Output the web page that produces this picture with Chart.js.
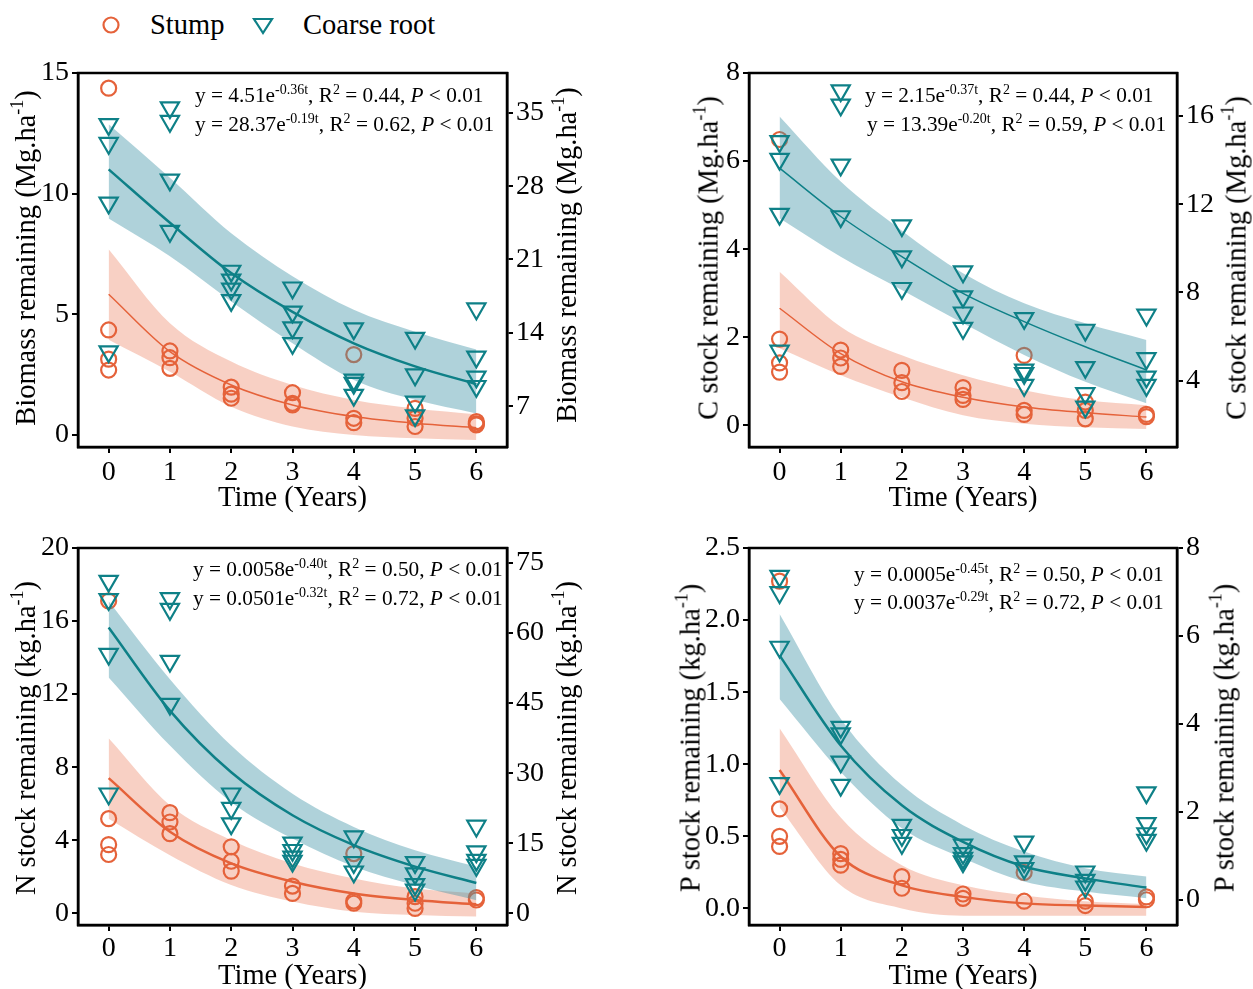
<!DOCTYPE html>
<html>
<head>
<meta charset="utf-8">
<script src="https://cdn.jsdelivr.net/npm/chart.js@4.4.1/dist/chart.umd.min.js"></script>
<style>
body { margin: 0; background: #fff; width: 1253px; height: 989px; position: relative; overflow: hidden;
       font-family: 'Liberation Serif', 'Times New Roman', serif; color: #000; }
canvas { position: absolute; }
.eq { position: absolute; font-size: 21.3px; line-height: 21px; white-space: nowrap; }
.eq sup { font-size: 14px; vertical-align: baseline; position: relative; top: -8px; }
.yt { position: absolute; font-size: 28.5px; line-height: 30px; white-space: nowrap;
      transform: translate(-50%, -50%) rotate(-90deg); }
.yt sup { font-size: 18px; vertical-align: baseline; position: relative; top: -12px; }
.lg { position: absolute; font-size: 28.5px; line-height: 30px; white-space: nowrap; }
svg { position: absolute; overflow: visible; }
</style>
</head>
<body>

<svg style="left:0;top:0" width="1" height="1">
  <circle cx="111" cy="25" r="7.5" fill="none" stroke="#E5623A" stroke-width="2.2"/>
  <polygon points="254,19 272,19 263,33" fill="none" stroke="#0E8087" stroke-width="2.2"/>
</svg>
<div class="lg" style="left:150px;top:10px">Stump</div>
<div class="lg" style="left:303px;top:10px">Coarse root</div>

<canvas id="c1" width="600" height="470" style="left:0;top:50px"></canvas>
<canvas id="c2" width="593" height="470" style="left:660px;top:50px"></canvas>
<canvas id="c3" width="600" height="469" style="left:0;top:525px"></canvas>
<canvas id="c4" width="593" height="469" style="left:660px;top:525px"></canvas>

<div class="eq" style="left:195px;top:85px">y = 4.51e<sup>-0.36t</sup>, R<sup>2</sup> = 0.44, <i>P</i> &lt; 0.01</div>
<div class="eq" style="left:195px;top:114px">y = 28.37e<sup>-0.19t</sup>, R<sup>2</sup> = 0.62, <i>P</i> &lt; 0.01</div>
<div class="eq" style="left:865px;top:85px">y = 2.15e<sup>-0.37t</sup>, R<sup>2</sup> = 0.44, <i>P</i> &lt; 0.01</div>
<div class="eq" style="left:867px;top:114px">y = 13.39e<sup>-0.20t</sup>, R<sup>2</sup> = 0.59, <i>P</i> &lt; 0.01</div>
<div class="eq" style="left:193px;top:559px">y = 0.0058e<sup>-0.40t</sup>, R<sup>2</sup> = 0.50, <i>P</i> &lt; 0.01</div>
<div class="eq" style="left:193px;top:588px">y = 0.0501e<sup>-0.32t</sup>, R<sup>2</sup> = 0.72, <i>P</i> &lt; 0.01</div>
<div class="eq" style="left:854px;top:564px">y = 0.0005e<sup>-0.45t</sup>, R<sup>2</sup> = 0.50, <i>P</i> &lt; 0.01</div>
<div class="eq" style="left:854px;top:592px">y = 0.0037e<sup>-0.29t</sup>, R<sup>2</sup> = 0.72, <i>P</i> &lt; 0.01</div>

<div class="yt" style="left:27px;top:258px">Biomass remaining (Mg.ha<sup>-1</sup>)</div>
<div class="yt" style="left:568px;top:255px">Biomass remaining (Mg.ha<sup>-1</sup>)</div>
<div class="yt" style="left:710px;top:258px">C stock remaining (Mg.ha<sup>-1</sup>)</div>
<div class="yt" style="left:1238px;top:258px">C stock remaining (Mg.ha<sup>-1</sup>)</div>
<div class="yt" style="left:27px;top:738px">N stock remaining (kg.ha<sup>-1</sup>)</div>
<div class="yt" style="left:568px;top:738px">N stock remaining (kg.ha<sup>-1</sup>)</div>
<div class="yt" style="left:692px;top:738px">P stock remaining (kg.ha<sup>-1</sup>)</div>
<div class="yt" style="left:1226px;top:738px">P stock remaining (kg.ha<sup>-1</sup>)</div>

<script>
// time axis
const years = [0, 1, 2, 3, 4, 5, 6];

// Biomass (stump on left axis, coarse root on right axis), grouped by year
const bioStump = [[14.37, 4.35, 3.14, 2.69], [3.48, 3.2, 2.76], [1.98, 1.69, 1.52], [1.75, 1.31, 1.24], [3.33, 0.69, 0.51], [1.1, 0.69, 0.35], [0.55, 0.46, 0.42]];
const bioRoot = [[33.9, 32.1, 26.4, 12.2], [35.5, 34.2, 28.6, 23.7], [19.9, 19.06, 18.2, 17.1], [18.3, 16.0, 14.5, 13.0], [14.4, 9.5, 9.2, 8.05], [13.5, 10.0, 7.4, 6.1], [16.3, 11.7, 9.8, 8.9]];
const bioStumpFit = [5.83, 3.45, 2.07, 1.24, 0.76, 0.48, 0.30];
const bioStumpHi = [7.7, 4.63, 3.04, 2.07, 1.45, 1.1, 0.86];
const bioStumpLo = [3.94, 2.62, 1.17, 0.35, 0.0, -0.14, -0.21];
const bioRootFit = [29.6, 24.5, 19.7, 16.0, 13.0, 10.8, 9.1];
const bioRootHi = [33.9, 28.8, 23.5, 19.4, 16.2, 14.1, 12.4];
const bioRootLo = [24.9, 21.3, 17.0, 13.0, 9.5, 7.6, 6.3];
const bioLeftTicks = [0, 5, 10, 15];
const bioRightTicks = [7, 14, 21, 28, 35];

// C stock
const cStump = [[6.49, 1.96, 1.42, 1.21], [1.71, 1.53, 1.34], [1.25, 0.97, 0.77], [0.86, 0.68, 0.59], [1.59, 0.34, 0.25], [0.53, 0.34, 0.15], [0.25, 0.2]];
const cRoot = [[14.84, 14.04, 11.55, 5.35], [17.14, 16.5, 13.78, 11.44], [11.03, 9.62, 8.19], [8.94, 7.81, 7.08, 6.38], [6.83, 4.49, 4.34, 3.8], [6.3, 4.61, 3.43, 2.82], [6.98, 5.01, 4.18, 3.8]];
const cStumpFit = [2.66, 1.63, 0.99, 0.64, 0.42, 0.29, 0.19];
const cStumpHi = [3.49, 2.24, 1.59, 1.14, 0.80, 0.57, 0.46];
const cStumpLo = [1.75, 1.14, 0.64, 0.23, 0.04, -0.04, -0.08];
const cRootFit = [13.63, 11.44, 9.62, 7.96, 6.68, 5.54, 4.49];
const cRootHi = [15.97, 13.02, 10.8, 8.87, 7.51, 6.6, 5.85];
const cRootLo = [11.36, 9.62, 8.11, 6.6, 5.17, 3.95, 2.98];
const cLeftTicks = [0, 2, 4, 6, 8];
const cRightTicks = [4, 8, 12, 16];

// N stock
const nStump = [[17.1, 5.18, 3.76, 3.22], [5.51, 5.0, 4.36], [3.64, 2.85, 2.31], [1.49, 1.09], [3.27, 0.67, 0.55], [0.91, 0.55, 0.27], [0.86, 0.73]];
const nRoot = [[71.1, 67.2, 55.5, 25.6], [67.4, 65.1, 54.0, 44.8], [25.6, 22.5, 19.2], [15.1, 13.5, 12.1, 11.2], [16.4, 10.9, 8.9], [10.9, 8.5, 6.2, 5.0], [18.7, 13.2, 11.4, 10.3]];
const nStumpFit = [7.4, 4.46, 2.73, 1.73, 1.09, 0.73, 0.49];
const nStumpHi = [9.58, 5.91, 4.0, 2.73, 1.91, 1.36, 1.09];
const nStumpLo = [5.18, 3.18, 1.55, 0.64, 0.09, -0.09, -0.18];
const nRootFit = [61.2, 43.4, 30.2, 21.0, 14.6, 10.0, 6.5];
const nRootHi = [66.8, 50.1, 35.9, 25.6, 18.5, 13.5, 10.0];
const nRootLo = [50.5, 35.9, 23.8, 16.0, 10.0, 6.0, 2.8];
const nLeftTicks = [0, 4, 8, 12, 16, 20];
const nRightTicks = [0, 15, 30, 45, 60, 75];

// P stock
const pStump = [[2.27, 0.69, 0.5, 0.43], [0.38, 0.34, 0.3], [0.22, 0.14], [0.10, 0.07], [0.25, 0.05], [0.05, 0.02], [0.08, 0.06]];
const pRoot = [[7.36, 6.99, 5.75, 2.65], [3.93, 3.78, 3.14, 2.61], [1.70, 1.47, 1.29], [1.25, 1.06, 0.95, 0.87], [1.32, 0.87, 0.72], [0.64, 0.45, 0.30], [2.44, 1.74, 1.51, 1.36]];
const pStumpFit = [0.96, 0.36, 0.16, 0.08, 0.035, 0.02, 0.01];
const pStumpHi = [1.25, 0.63, 0.30, 0.16, 0.09, 0.05, 0.03];
const pStumpLo = [0.70, 0.16, 0.0, -0.05, -0.05, -0.05, -0.05];
const pRootFit = [5.56, 3.51, 2.15, 1.32, 0.76, 0.49, 0.28];
const pRootHi = [6.5, 4.12, 2.61, 1.70, 1.10, 0.72, 0.53];
const pRootLo = [4.57, 2.91, 1.63, 0.95, 0.42, 0.19, 0.04];
const pLeftTicks = [0, 0.5, 1.0, 1.5, 2.0, 2.5];
const pRightTicks = [0, 2, 4, 6, 8];

Chart.defaults.font.family = "'Liberation Serif', 'Times New Roman', serif";
Chart.defaults.color = '#000';

const ORANGE = '#E5623A';
const TEAL = '#0E8087';
const ORANGE_BAND = 'rgba(236,120,86,0.35)';
const TEAL_BAND = 'rgba(64,148,166,0.42)';

function points(groups) {
    var out = [];
    groups.forEach(function(g, i) {
        g.forEach(function(v) { out.push({x: years[i], y: v}); });
    });
    return out;
}
function curve(vals) {
    return vals.map(function(v, i) { return {x: years[i], y: v}; });
}

// closes the box on top of the plot area
const frame = {
    id: 'frame',
    afterDraw: function(c) {
        var a = c.chartArea, ctx = c.ctx;
        ctx.save();
        ctx.strokeStyle = '#000';
        ctx.lineWidth = 2.5;
        ctx.strokeRect(a.left, a.top, a.right - a.left, a.bottom - a.top);
        ctx.restore();
    }
};

function axis(pos, min, max, ticks, size, fmt, pad) {
    return {
        type: 'linear',
        position: pos,
        min: min,
        max: max,
        afterBuildTicks: function(s) { s.ticks = ticks.map(function(v) { return {value: v}; }); },
        afterFit: function(s) { if (pos === 'bottom') s.height = size; else s.width = size; },
        grid: {drawOnChartArea: false, tickLength: 6, lineWidth: 2, color: '#000'},
        border: {width: 2.5, color: '#000'},
        ticks: {font: {size: 28}, padding: pad === undefined ? 3 : pad, color: '#000', maxRotation: 0,
                callback: fmt || function(v) { return String(v); }}
    };
}

function panel(id, p) {
    var x = axis('bottom', -0.5, 6.5, years, p.B, null, p.xp);
    x.title = {display: true, text: 'Time (Years)', font: {size: 28.5}, padding: {top: 0, bottom: p.tb}};
    return new Chart(document.getElementById(id), {
        type: 'line',
        data: {
            datasets: [
                {data: curve(p.sLo), yAxisID: 'y', borderColor: 'transparent', borderWidth: 0, pointRadius: 0, fill: false, order: 6},
                {data: curve(p.sHi), yAxisID: 'y', borderColor: 'transparent', borderWidth: 0, pointRadius: 0, fill: '-1', backgroundColor: ORANGE_BAND, order: 6},
                {data: curve(p.sFit), yAxisID: 'y', borderColor: ORANGE, borderWidth: p.sLW, pointRadius: 0, fill: false, order: 5},
                {data: points(p.s), yAxisID: 'y', showLine: false, pointStyle: 'circle', pointRadius: 7.5, pointBorderWidth: 2.2,
                 pointBorderColor: ORANGE, pointBackgroundColor: 'rgba(0,0,0,0)', order: 4},
                {data: curve(p.rLo), yAxisID: 'y1', borderColor: 'transparent', borderWidth: 0, pointRadius: 0, fill: false, order: 3},
                {data: curve(p.rHi), yAxisID: 'y1', borderColor: 'transparent', borderWidth: 0, pointRadius: 0, fill: '-1', backgroundColor: TEAL_BAND, order: 3},
                {data: curve(p.rFit), yAxisID: 'y1', borderColor: TEAL, borderWidth: p.rLW, pointRadius: 0, fill: false, order: 2},
                {data: points(p.r), yAxisID: 'y1', showLine: false, pointStyle: 'triangle', pointRotation: 180, pointRadius: 10.5, pointBorderWidth: 2.2,
                 pointBorderColor: TEAL, pointBackgroundColor: 'rgba(0,0,0,0)', order: 1}
            ]
        },
        options: {
            responsive: false,
            animation: false,
            devicePixelRatio: 1,
            layout: {padding: {top: p.T, left: 0, right: 0, bottom: 0}},
            elements: {line: {cubicInterpolationMode: 'monotone'}},
            plugins: {legend: {display: false}, tooltip: {enabled: false}},
            scales: {
                x: x,
                y: axis('left', p.yMin, p.yMax, p.yTicks, p.L, p.yFmt),
                y1: axis('right', p.y1Min, p.y1Max, p.y1Ticks, p.R)
            }
        },
        plugins: [frame]
    });
}

panel('c1', {s: bioStump, r: bioRoot, sFit: bioStumpFit, sHi: bioStumpHi, sLo: bioStumpLo, rFit: bioRootFit, rHi: bioRootHi, rLo: bioRootLo,
    yMin: -0.5, yMax: 15, yTicks: bioLeftTicks, y1Min: 3.1, y1Max: 38.8, y1Ticks: bioRightTicks,
    L: 78, R: 93, T: 23, B: 73, tb: 4, xp: 3, sLW: 1.5, rLW: 2.5});
panel('c2', {s: cStump, r: cRoot, sFit: cStumpFit, sHi: cStumpHi, sLo: cStumpLo, rFit: cRootFit, rHi: cRootHi, rLo: cRootLo,
    yMin: -0.49, yMax: 8, yTicks: cLeftTicks, y1Min: 1.0, y1Max: 17.94, y1Ticks: cRightTicks,
    L: 89, R: 76, T: 23, B: 73, tb: 4, xp: 3, sLW: 1.5, rLW: 1.5});
panel('c3', {s: nStump, r: nRoot, sFit: nStumpFit, sHi: nStumpHi, sLo: nStumpLo, rFit: nRootFit, rHi: nRootHi, rLo: nRootLo,
    yMin: -0.64, yMax: 20, yTicks: nLeftTicks, y1Min: -2.5, y1Max: 78.2, y1Ticks: nRightTicks,
    L: 78, R: 93, T: 23, B: 69, tb: 0, xp: 1, sLW: 2.5, rLW: 2.5});
panel('c4', {s: pStump, r: pRoot, sFit: pStumpFit, sHi: pStumpHi, sLo: pStumpLo, rFit: pRootFit, rHi: pRootHi, rLo: pRootLo,
    yMin: -0.115, yMax: 2.5, yTicks: pLeftTicks, y1Min: -0.57, y1Max: 8.0, y1Ticks: pRightTicks,
    L: 89, R: 76, T: 23, B: 69, tb: 0, xp: 1, sLW: 2.5, rLW: 2.5, yFmt: function(v) { return v.toFixed(1); }});
</script>
</body>
</html>
